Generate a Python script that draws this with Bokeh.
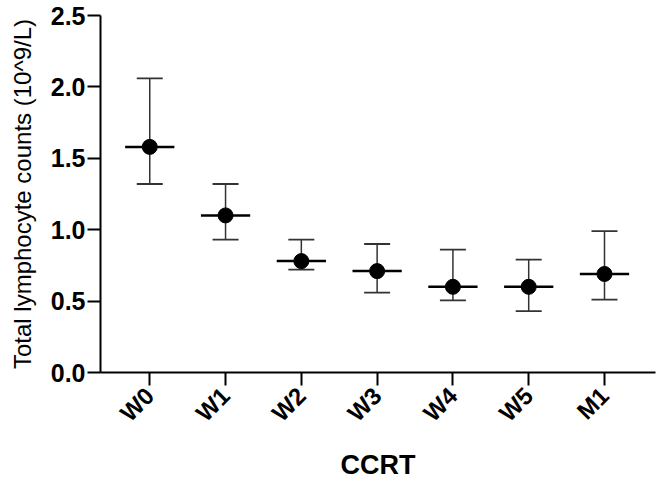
import math
from bokeh.plotting import figure
from bokeh.models import ColumnDataSource, Whisker, TeeHead, FixedTicker, Range1d
from bokeh.embed import file_html
from bokeh.resources import INLINE

categories = ["W0", "W1", "W2", "W3", "W4", "W5", "M1"]
median = [1.58, 1.10, 0.78, 0.71, 0.60, 0.60, 0.69]
upper = [2.06, 1.32, 0.93, 0.90, 0.86, 0.79, 0.99]
lower = [1.32, 0.93, 0.72, 0.56, 0.505, 0.43, 0.51]
y_ticks = [0.0, 0.5, 1.0, 1.5, 2.0, 2.5]

xs = list(range(len(categories)))
half = 0.325
src = ColumnDataSource(dict(x=xs, m=median, up=upper, lo=lower,
                            x0=[x - half for x in xs], x1=[x + half for x in xs]))

p = figure(width=660, height=483, output_backend="svg", toolbar_location=None,
           x_range=Range1d(-0.65, 6.673), y_range=Range1d(0, 2.5),
           min_border_left=100, min_border_right=5, min_border_top=15, min_border_bottom=110)
p.outline_line_color = None
p.grid.grid_line_color = None
p.background_fill_color = "white"
p.border_fill_color = "white"

w = Whisker(source=src, base="x", upper="up", lower="lo",
            line_color="#333333", line_width=1.5,
            upper_head=TeeHead(size=26, line_color="#333333", line_width=1.8),
            lower_head=TeeHead(size=26, line_color="#333333", line_width=1.8))
p.add_layout(w)
p.segment(x0="x0", x1="x1", y0="m", y1="m", source=src, line_color="black", line_width=2.5)
p.scatter(x="x", y="m", source=src, size=15, color="black")

font = "Liberation Sans"
p.xaxis.ticker = FixedTicker(ticks=xs)
p.xaxis.major_label_overrides = {i: c for i, c in enumerate(categories)}
p.xaxis.major_label_orientation = math.pi / 4
p.yaxis.ticker = FixedTicker(ticks=y_ticks)
p.yaxis.formatter.use_scientific = False
p.yaxis.major_label_overrides = {t: f"{t:.1f}" for t in y_ticks}

for ax in (p.xaxis, p.yaxis):
    ax.axis_line_width = 2
    ax.axis_line_color = "black"
    ax.major_tick_line_width = 2
    ax.major_tick_line_color = "black"
    ax.major_tick_out = 13
    ax.major_tick_in = 0
    ax.minor_tick_line_color = None
    ax.major_label_text_font = font
    ax.major_label_text_font_style = "bold"
    ax.major_label_text_font_size = "24px"
    ax.major_label_text_color = "black"
    ax.axis_label_text_font = font
    ax.axis_label_text_color = "black"

p.yaxis.major_label_text_font_size = "25px"
p.yaxis.major_label_standoff = 2
p.xaxis.major_label_standoff = 6
p.xaxis.axis_label = "CCRT"
p.xaxis.axis_label_text_font_style = "bold"
p.xaxis.axis_label_text_font_size = "27px"
p.xaxis.axis_label_standoff = 11
p.yaxis.axis_label = "Total lymphocyte counts (10^9/L)"
p.yaxis.axis_label_text_font_style = "normal"
p.yaxis.axis_label_text_font_size = "24px"
p.yaxis.axis_label_standoff = 12

open("out.html", "w").write(file_html(p, INLINE))
